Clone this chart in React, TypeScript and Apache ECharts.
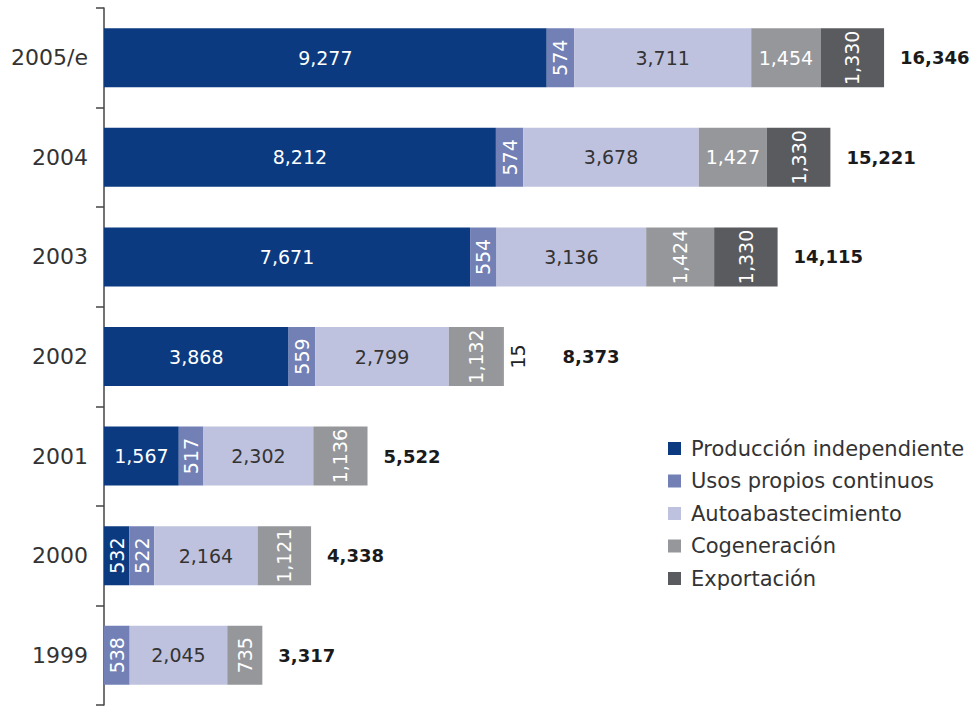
import React, { useEffect, useRef } from "react";
import * as echarts from "echarts";

const categories = ["1999", "2000", "2001", "2002", "2003", "2004", "2005/e"];
const seriesNames = [
  "Producción independiente",
  "Usos propios continuos",
  "Autoabastecimiento",
  "Cogeneración",
  "Exportación",
];
const produccion = [null, 532, 1567, 3868, 7671, 8212, 9277];
const usosPropios = [538, 522, 517, 559, 554, 574, 574];
const autoabastecimiento = [2045, 2164, 2302, 2799, 3136, 3678, 3711];
const cogeneracion = [735, 1121, 1136, 1132, 1424, 1427, 1454];
const exportacion = [null, null, null, 15, 1330, 1330, 1330];
const totals = [3317, 4338, 5522, 8373, 14115, 15221, 16346];

const colors = ["#0b3a80", "#7280b6", "#bfc2de", "#95979b", "#5a5b5f"];
const FONT = "DejaVu Sans";

// label styling (which labels are horizontal; others are vertical)
const horizontalLabels: Record<number, string[]> = {
  0: ["2001", "2002", "2003", "2004", "2005/e"],
  1: [],
  2: categories,
  3: ["2004", "2005/e"],
  4: [],
};
const outsideLabel = { series: 4, category: "2002" };

const fmt = (v: number) => v.toLocaleString("en-US");

export default function App() {
  const ref = useRef<HTMLDivElement>(null);
  useEffect(() => {
    if (!ref.current) return;
    const chart = echarts.init(ref.current, null, { renderer: "svg" });
    const all = [produccion, usosPropios, autoabastecimiento, cogeneracion, exportacion];
    const series: any[] = all.map((arr, si) => ({
      name: seriesNames[si],
      type: "bar",
      stack: "total",
      barWidth: 59,
      itemStyle: { color: colors[si] },
      data: arr.map((v, ci) => {
        if (v == null) return "-";
        const cat = categories[ci];
        const horiz = horizontalLabels[si].includes(cat);
        const outside = si === outsideLabel.series && cat === outsideLabel.category;
        return {
          value: v,
          label: {
            show: true,
            formatter: () => fmt(v),
            position: outside ? [15, "50%"] : "inside",
            rotate: horiz ? 0 : 90,
            align: "center",
            verticalAlign: "middle",
            color: outside ? "#222" : si === 2 ? "#333" : "#ffffff",
            fontFamily: FONT,
            fontSize: 19,
          },
        };
      }),
    }));
    series.push({
      name: "Total",
      type: "bar",
      barWidth: 59,
      barGap: "-100%",
      z: 1,
      silent: true,
      itemStyle: { color: "rgba(0,0,0,0)" },
      data: totals.map((t, ci) => ({
        value: t,
        label: {
          show: true,
          position: "right",
          distance: 16,
          offset: categories[ci] === outsideLabel.category ? [43, 0] : [0, 0],
          formatter: () => fmt(t),
          color: "#1a1a1a",
          fontWeight: "bold",
          fontFamily: FONT,
          fontSize: 18,
        },
      })),
    });

    chart.setOption({
      animation: false,
      grid: { left: 104, top: 8, width: 859, height: 697, containLabel: false },
      xAxis: { type: "value", min: 0, max: 18000, show: false },
      yAxis: {
        type: "category",
        data: categories,
        axisLine: { show: true, lineStyle: { color: "#444", width: 1.5 } },
        axisTick: { show: true, length: 8, lineStyle: { color: "#444", width: 1.5 } },
        axisLabel: { color: "#333", fontFamily: FONT, fontSize: 22, margin: 16 },
      },
      legend: {
        data: seriesNames,
        orient: "vertical",
        left: 663,
        top: 433,
        icon: "rect",
        itemWidth: 13,
        itemHeight: 13,
        itemGap: 11.5,
        textStyle: {
          color: "#333",
          fontFamily: FONT,
          fontSize: 21,
          lineHeight: 20,
          padding: [0, 0, 0, 5],
        },
      },
      series,
    });
    return () => chart.dispose();
  }, []);
  return (
    <div
      ref={ref}
      style={{ position: "absolute", left: 0, top: 0, width: 974, height: 706, background: "#fff" }}
    />
  );
}
